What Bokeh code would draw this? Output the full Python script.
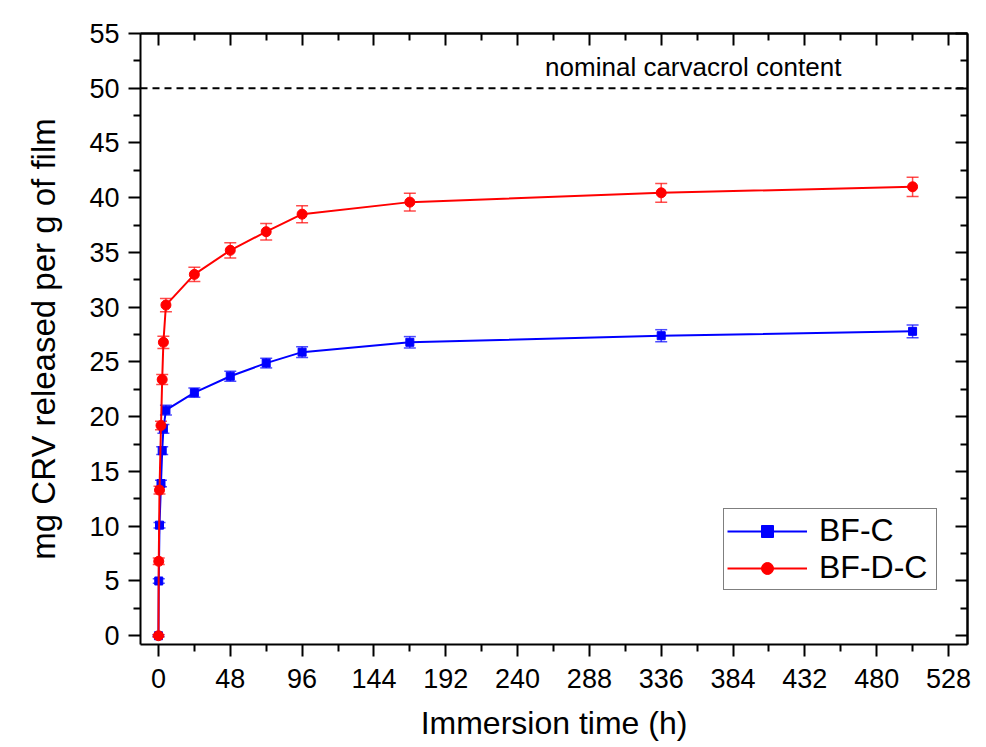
from bokeh.plotting import figure
from bokeh.models import (ColumnDataSource, Range1d, FixedTicker, LinearAxis, Whisker,
                          TeeHead, Span, Label, Legend)
from bokeh.embed import file_html
from bokeh.resources import INLINE

# ---- data ----
time_h = [0, 0.2, 0.7, 1.7, 2.5, 3.3, 5, 24, 48, 72, 96, 168, 336, 504]
bfc = [0.0, 5.0, 10.1, 13.9, 16.9, 18.9, 20.6, 22.2, 23.7, 24.9, 25.9, 26.8, 27.4, 27.8]
bfc_err = [0.1, 0.2, 0.25, 0.3, 0.35, 0.4, 0.45, 0.43, 0.46, 0.44, 0.49, 0.52, 0.55, 0.58]
bfdc = [0.0, 6.8, 13.3, 19.2, 23.4, 26.8, 30.2, 33.0, 35.2, 36.9, 38.5, 39.6, 40.45, 41.0]
bfdc_err = [0.1, 0.3, 0.35, 0.38, 0.45, 0.56, 0.6, 0.65, 0.7, 0.75, 0.78, 0.8, 0.85, 0.88]
series_names = ["BF-C", "BF-D-C"]
x_ticks = [0, 48, 96, 144, 192, 240, 288, 336, 384, 432, 480, 528]
x_minor = [24, 72, 120, 168, 216, 264, 312, 360, 408, 456, 504]
y_ticks = [0, 5, 10, 15, 20, 25, 30, 35, 40, 45, 50, 55]
y_minor = [2.5, 7.5, 12.5, 17.5, 22.5, 27.5, 32.5, 37.5, 42.5, 47.5, 52.5]
nominal_value = 50
nominal_text = "nominal carvacrol content"
x_title = "Immersion time (h)"
y_title = "mg CRV released per g of film"

FONT = "Liberation Sans"
BLUE = "#0000FF"
RED = "#FF0000"

p = figure(width=984, height=745, output_backend="svg", toolbar_location=None,
           x_range=Range1d(-12, 540.7), y_range=Range1d(-0.8, 55),
           min_border_left=140, min_border_right=17, min_border_top=33, min_border_bottom=101,
           x_axis_label=x_title, y_axis_label=y_title)
p.grid.visible = False
p.outline_line_color = None
p.background_fill_color = "white"
p.border_fill_color = "white"

def style_axis(ax, ticks, minor):
    ax.ticker = FixedTicker(ticks=ticks, minor_ticks=minor)
    ax.axis_line_width = 2
    ax.axis_line_color = "black"
    ax.major_tick_line_width = 2
    ax.minor_tick_line_width = 2
    ax.major_tick_line_color = "black"
    ax.minor_tick_line_color = "black"
    ax.major_label_text_font = FONT
    ax.major_label_text_font_size = "27px"
    ax.major_label_text_color = "black"
    ax.axis_label_text_font = FONT
    ax.axis_label_text_font_size = "32px"
    ax.axis_label_text_font_style = "normal"
    ax.axis_label_text_color = "black"

xa = p.xaxis[0]
style_axis(xa, x_ticks, x_minor)
xa.major_tick_out = 12
xa.major_tick_in = 0
xa.minor_tick_out = 7
xa.minor_tick_in = 0
xa.major_label_standoff = 12
xa.axis_label_standoff = 14

ya = p.yaxis[0]
style_axis(ya, y_ticks, y_minor)
ya.axis_label_text_font_size = "33px"
ya.major_tick_out = 12
ya.major_tick_in = 0
ya.minor_tick_out = 7
ya.minor_tick_in = 0
ya.major_label_standoff = 9
ya.axis_label_standoff = 24

# mirrored inward ticks on top and right (ticks only, no labels):
# long ticks at major positions, short ticks at minor positions
for place, ticks, minor in [("above", x_ticks, x_minor), ("right", y_ticks, y_minor)]:
    for positions, length in [(ticks, 12), (minor, 7)]:
        ax = LinearAxis(ticker=FixedTicker(ticks=[], minor_ticks=positions))
        ax.axis_line_width = 2
        ax.axis_line_color = "black"
        ax.major_tick_in = 0
        ax.major_tick_out = 0
        ax.minor_tick_in = length
        ax.minor_tick_out = 0
        ax.minor_tick_line_width = 2
        ax.minor_tick_line_color = "black"
        ax.major_label_standoff = 0
        p.add_layout(ax, place)

# nominal line
p.add_layout(Span(location=nominal_value, dimension="width", line_color="black",
                  line_width=2, line_dash="7 5"))
p.add_layout(Label(x=357.4, y=51.9, text=nominal_text, text_align="center",
                   text_baseline="alphabetic", text_font=FONT, text_font_size="26px",
                   text_color="black"))

def upper(v, e):
    return [a + b for a, b in zip(v, e)]

def lower(v, e):
    return [a - b for a, b in zip(v, e)]

src_b = ColumnDataSource(dict(x=time_h, y=bfc, up=upper(bfc, bfc_err), lo=lower(bfc, bfc_err)))
src_r = ColumnDataSource(dict(x=time_h, y=bfdc, up=upper(bfdc, bfdc_err), lo=lower(bfdc, bfdc_err)))

items = []
for src, color, marker, size, name in [(src_b, BLUE, "square", 8, series_names[0]),
                                        (src_r, RED, "circle", 10, series_names[1])]:
    w = Whisker(source=src, base="x", upper="up", lower="lo", line_color=color,
                line_width=1.5, line_alpha=0.7,
                upper_head=TeeHead(size=12, line_color=color, line_width=1.5, line_alpha=0.7),
                lower_head=TeeHead(size=12, line_color=color, line_width=1.5, line_alpha=0.7))
    p.add_layout(w)
    ln = p.line("x", "y", source=src, line_color=color, line_width=2)
    sc = p.scatter("x", "y", source=src, marker=marker, size=size, fill_color=color,
                   line_color=color)
    items.append((name, [ln, sc]))

legend = Legend(items=items, location=(583, 54), margin=0, padding=3, spacing=0,
                glyph_width=80, glyph_height=30, label_height=30, label_width=114,
                label_standoff=12,
                label_text_font=FONT, label_text_font_size="32px", label_text_color="black",
                border_line_color="black", border_line_width=1.5,
                background_fill_color="white", background_fill_alpha=1.0)
p.add_layout(legend, "center")

open("out.html", "w").write(file_html(p, INLINE))
